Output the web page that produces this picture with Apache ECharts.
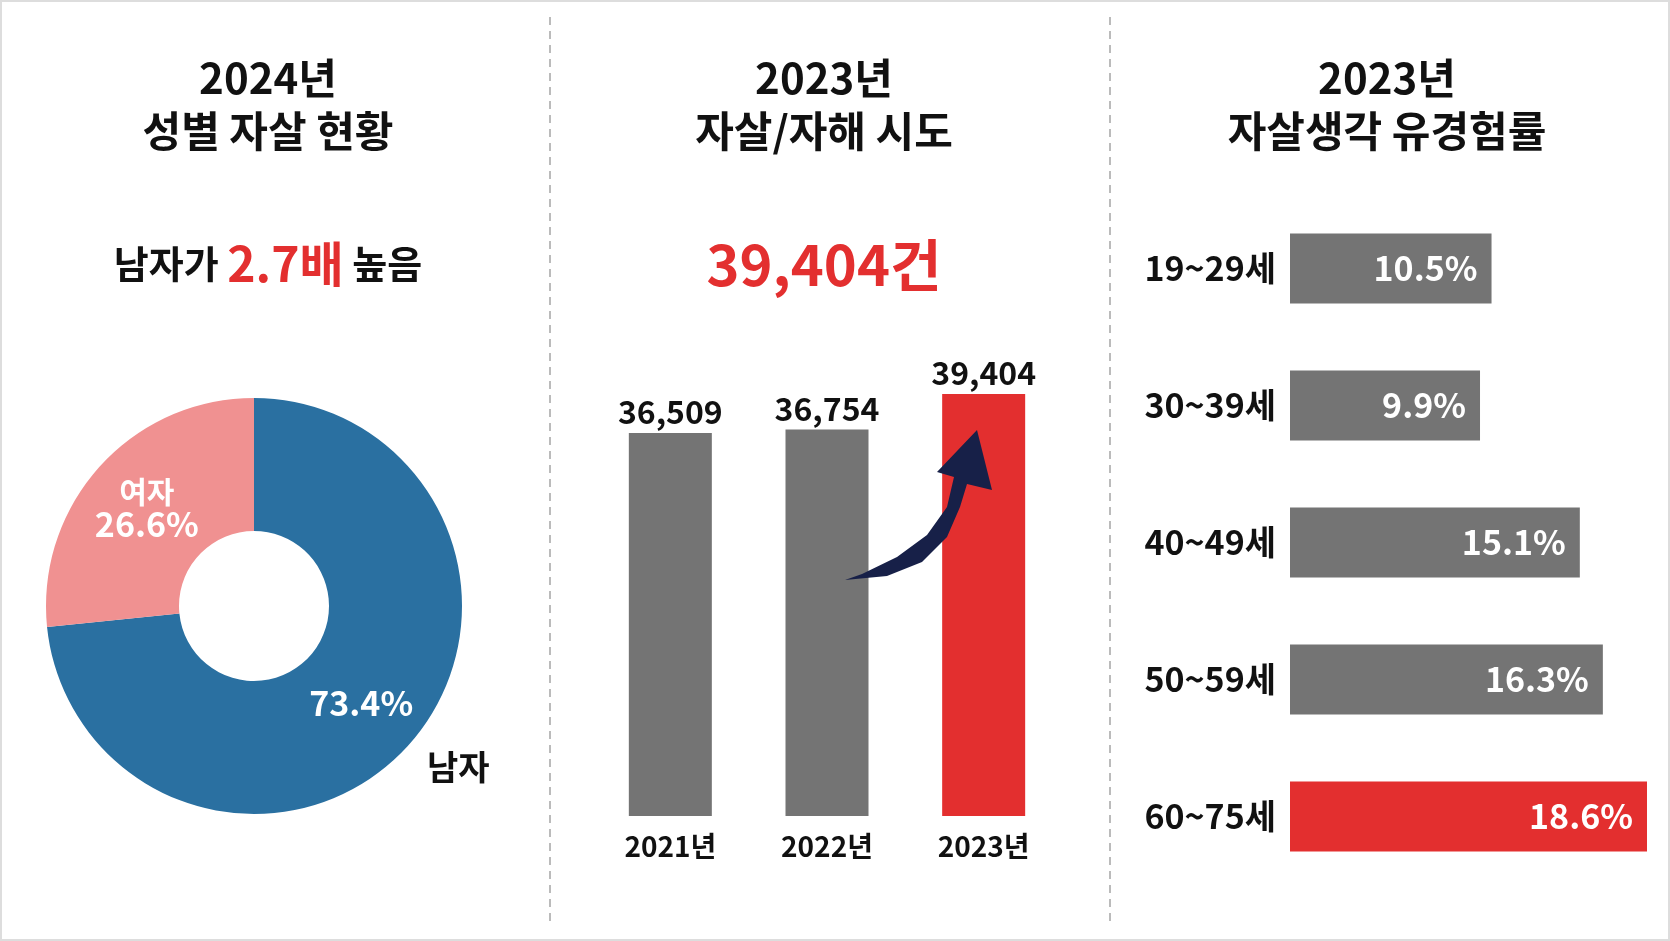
<!DOCTYPE html>
<html><head><meta charset="utf-8">
<style>html,body{margin:0;padding:0;background:#fff}#main{width:1670px;height:941px;box-sizing:border-box;border:2px solid #ddd}</style>
<script src="https://cdn.jsdelivr.net/npm/echarts@6/dist/echarts.min.js"></script>
</head><body><div id="main"></div>
<script>
// gender split 2024
const genderNames = ['남자', '여자'];
const genderValues = [73.4, 26.6];
// attempts
const years = ['2021년', '2022년', '2023년'];
const attempts = [36509, 36754, 39404];
// ideation by age
const ageGroups = ['19~29세', '30~39세', '40~49세', '50~59세', '60~75세'];
const ideation = [10.5, 9.9, 15.1, 16.3, 18.6];

const FONT = '"Noto Sans CJK KR", "Noto Sans", sans-serif';
const RED = '#e32f2f', GRAY = '#747474';

function head(text, x, y, size, color) {
    return { type: 'text', x: x, y: y, style: { text: text, font: 'bold ' + size + 'px ' + FONT, fill: color || '#111', textAlign: 'center', lineHeight: size * 1.25 } };
}

let options = {
    textStyle: { fontFamily: FONT },
    animation: false,
    graphic: [
        head('2024년\n성별 자살 현황', 266, 50, 42),
        {
            type: 'text', x: 266, y: 238,
            style: {
                text: '{a|남자가 }{b|2.7배}{a| 높음}', textAlign: 'center',
                rich: { a: { fontFamily: FONT, fontWeight: 'bold', fontSize: 38, fill: '#111' },
                        b: { fontFamily: FONT, fontWeight: 'bold', fontSize: 48, fill: RED } }
            }
        },
        head('2023년\n자살/자해 시도', 822, 50, 42),
        head('39,404건', 822, 228, 56, RED),
        head('2023년\n자살생각 유경험률', 1385, 50, 42),
        { type: 'line', shape: { x1: 548, y1: 15, x2: 548, y2: 925 }, style: { stroke: '#bbb', lineWidth: 2, lineDash: [8, 6] } },
        { type: 'line', shape: { x1: 1108, y1: 15, x2: 1108, y2: 925 }, style: { stroke: '#bbb', lineWidth: 2, lineDash: [8, 6] } },
        { type: 'text', x: 425, y: 748, style: { text: '남자', font: 'bold 34px ' + FONT, fill: '#111' } },
        // curved arrow
        { type: 'polygon', z: 100, shape: { points: [
            [843, 578], [885, 574], [920, 560], [945, 535], [958, 505], [965, 482], [990, 488],
            [975, 428], [935, 470], [952, 475], [945, 505], [925, 533], [895, 555], [860, 572]
        ] }, style: { fill: '#172048' } }
    ],
    grid: [
        { left: 590, width: 470, top: 392, bottom: 123 },
        { left: 1288, right: 21, top: 198, bottom: 54 }
    ],
    xAxis: [
        { gridIndex: 0, type: 'category', data: years, axisLine: { show: false }, axisTick: { show: false },
          axisLabel: { color: '#111', fontSize: 28, fontWeight: 'bold', margin: 16 } },
        { gridIndex: 1, type: 'value', min: 0, max: 18.6, show: false }
    ],
    yAxis: [
        { gridIndex: 0, type: 'value', min: 8000, max: 39404, show: false },
        { gridIndex: 1, type: 'category', inverse: true, data: ageGroups, axisLine: { show: false }, axisTick: { show: false },
          axisLabel: { color: '#111', fontSize: 34, fontWeight: 'bold', margin: 14 } }
    ],
    series: [
        {
            type: 'pie', center: [252, 604], radius: [75, 208], startAngle: 90, clockwise: true,
            data: genderNames.map((n, i) => ({ name: n, value: genderValues[i],
                itemStyle: { color: i === 0 ? '#2a70a1' : '#f09191' } })),
            label: { position: 'inside', color: '#fff', fontWeight: 'bold', fontSize: 34,
                formatter: p => p.dataIndex === 0 ? p.value + '%' : '{s|여자}\n' + p.value + '%',
                rich: { s: { fontSize: 30, fontWeight: 'bold', color: '#fff' } } },
            labelLine: { show: false }
        },
        {
            type: 'bar', xAxisIndex: 0, yAxisIndex: 0, barWidth: 83,
            data: attempts.map((v, i) => ({ value: v, itemStyle: { color: i === 2 ? RED : GRAY } })),
            label: { show: true, position: 'top', color: '#111', fontSize: 32, fontWeight: 'bold',
                formatter: p => p.value.toLocaleString('en-US') }
        },
        {
            type: 'bar', xAxisIndex: 1, yAxisIndex: 1, barWidth: 70,
            data: ideation.map((v, i) => ({ value: v, itemStyle: { color: i === 4 ? RED : GRAY } })),
            label: { show: true, position: 'insideRight', distance: 14, color: '#fff', fontSize: 34, fontWeight: 'bold',
                formatter: '{c}%' }
        }
    ]
};
let myChart = echarts.init(document.getElementById('main'));
myChart.setOption(options);
</script></body></html>
